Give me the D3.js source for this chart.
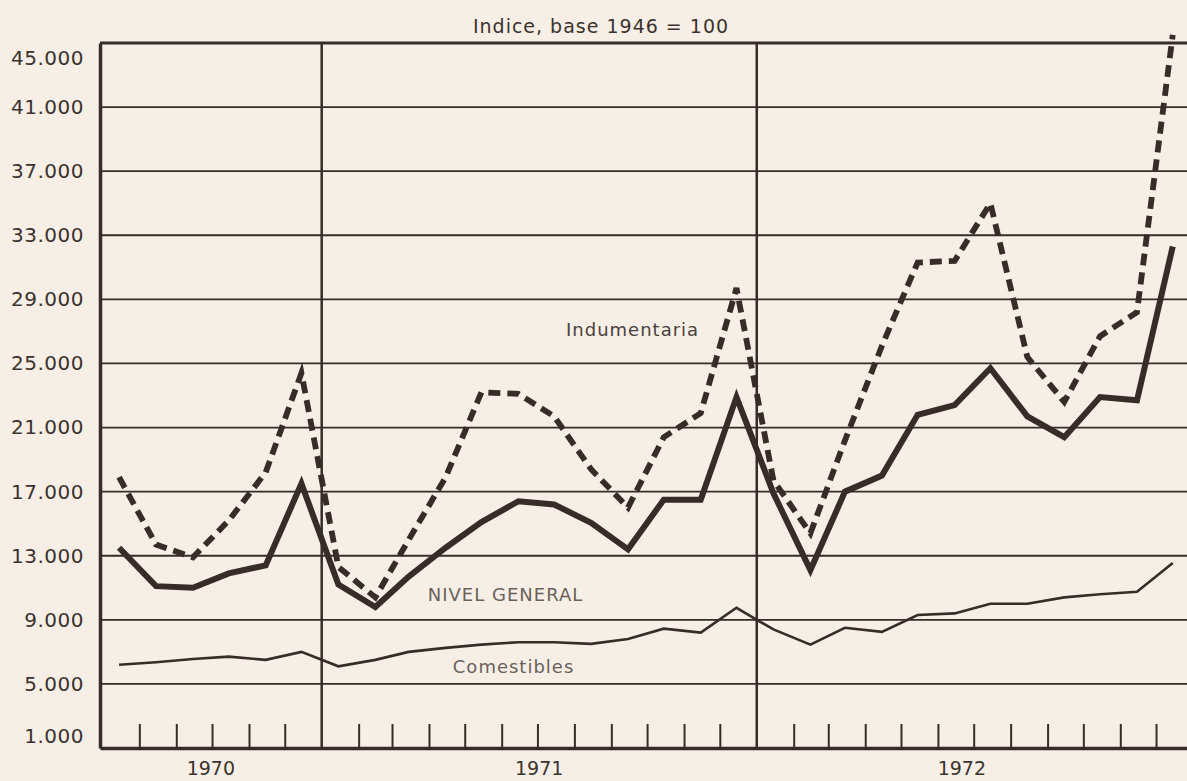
<!DOCTYPE html>
<html>
<head>
<meta charset="utf-8">
<script src="https://cdn.jsdelivr.net/npm/d3@7"></script>
<style>
  body { margin: 0; background: #f7efe6; }
  svg { display: block; }
  text { font-family: "DejaVu Sans", sans-serif; fill: #3b322e; }
</style>
</head>
<body>
<div id="chart"></div>
<script>
// monthly values, Jul 1970 - Dec 1972
var months = ["1970-07","1970-08","1970-09","1970-10","1970-11","1970-12",
  "1971-01","1971-02","1971-03","1971-04","1971-05","1971-06",
  "1971-07","1971-08","1971-09","1971-10","1971-11","1971-12",
  "1972-01","1972-02","1972-03","1972-04","1972-05","1972-06",
  "1972-07","1972-08","1972-09","1972-10","1972-11","1972-12"];

var nivelGeneral = [13500, 11100, 11000, 11900, 12400, 17500,
  11200, 9800, 11700, 13500, 15100, 16400,
  16200, 15050, 13400, 16500, 16500, 22900,
  16900, 12100, 17000, 18000, 21800, 22400,
  24700, 21700, 20400, 22900, 22700, 32300];

var indumentaria = [17900, 13700, 12900, 15200, 18200, 24400,
  12300, 10400, 14000, 17900, 23200, 23100,
  21700, 18400, 16000, 20400, 21900, 29700,
  17700, 14400, 20200, 26100, 31300, 31400,
  35000, 25400, 22600, 26700, 28200, 45500];

var comestibles = [6200, 6350, 6550, 6700, 6500, 7000,
  6100, 6500, 7000, 7250, 7450, 7600,
  7600, 7500, 7800, 8450, 8200, 9750,
  8400, 7450, 8500, 8250, 9300, 9400,
  10000, 10000, 10400, 10600, 10750, 12550];

var yTicks = [1000, 5000, 9000, 13000, 17000, 21000, 25000, 29000, 33000, 37000, 41000, 45000];
var years = [1970, 1971, 1972];

var width = 1187, height = 781;
var margin = {top: 43, left: 100, bottom: 33};
var ink = "#372c28";

var svg = d3.select("#chart").append("svg")
    .attr("width", width)
    .attr("height", height);

var parseMonth = d3.timeParse("%Y-%m");
var mid = m => d3.timeDay.offset(parseMonth(m), 14);

var xScale = d3.scaleTime()
    .domain([new Date(1970, 5, 29), new Date(1973, 0, 1)])
    .range([margin.left, 1193]);

var yScale = d3.scaleLinear()
    .domain([1000, 45000])
    .range([height - margin.bottom, margin.top]);

var fmt = d3.formatLocale({decimal: ",", thousands: ".", grouping: [3], currency: ["", ""]}).format(",");

var x0 = xScale.range()[0], x1 = xScale.range()[1];

// horizontal grid
svg.append("g")
  .selectAll("line")
  .data(yTicks.slice(1, -1))
  .join("line")
    .attr("x1", x0)
    .attr("x2", x1)
    .attr("y1", d => yScale(d))
    .attr("y2", d => yScale(d))
    .attr("stroke", ink)
    .attr("stroke-width", 1.8);

// year separators
svg.append("g")
  .selectAll("line")
  .data(years.slice(1))
  .join("line")
    .attr("x1", d => xScale(new Date(d, 0, 1)))
    .attr("x2", d => xScale(new Date(d, 0, 1)))
    .attr("y1", yScale(45000))
    .attr("y2", yScale(1000))
    .attr("stroke", ink)
    .attr("stroke-width", 2.5);

// top frame
svg.append("line")
    .attr("x1", x0)
    .attr("x2", x1)
    .attr("y1", yScale(45000))
    .attr("y2", yScale(45000))
    .attr("stroke", ink)
    .attr("stroke-width", 3);

// month ticks on the bottom axis
var monthTicks = d3.timeMonth.range(new Date(1970, 7, 1), new Date(1973, 0, 1))
    .filter(d => d.getMonth() != 0);

var xAxis = d3.axisBottom(xScale)
    .tickValues(monthTicks)
    .tickSize(-24)
    .tickSizeOuter(0)
    .tickFormat("");

var gx = svg.append("g")
    .attr("transform", `translate(0,${yScale(1000)})`)
    .call(xAxis);
gx.select(".domain").attr("stroke", ink).attr("stroke-width", 3.5);
gx.selectAll(".tick line").attr("stroke", ink).attr("stroke-width", 2);

// left axis with labels
var yAxis = d3.axisLeft(yScale)
    .tickValues(yTicks)
    .tickSize(0)
    .tickPadding(16)
    .tickFormat(fmt);

var gy = svg.append("g")
    .attr("transform", `translate(${x0},0)`)
    .call(yAxis);
gy.select(".domain").attr("stroke", ink).attr("stroke-width", 3.5);
gy.selectAll("text")
    .attr("font-size", 20)
    .attr("font-family", "DejaVu Sans")
    .attr("fill", "#3b322e")
    .attr("letter-spacing", 0.5)
    // end labels pulled inside the frame
    .attr("dy", d => d == 45000 ? "1.05em" : d == 1000 ? "-0.3em" : "0.32em");

// year labels
svg.append("g")
  .selectAll("text")
  .data(years)
  .join("text")
    .attr("x", d => {
      var a = Math.max(xScale(new Date(d, 0, 1)), x0);
      var b = Math.min(xScale(new Date(d + 1, 0, 1)), width - 20);
      return (a + b) / 2;
    })
    .attr("y", 775)
    .attr("text-anchor", "middle")
    .attr("font-size", 19)
    .text(d => d);

// series
var series = [
  {name: "Comestibles", values: comestibles, w: 2.6, dash: null},
  {name: "Nivel general", values: nivelGeneral, w: 6, dash: null},
  {name: "Indumentaria", values: indumentaria, w: 5.8, dash: "12,7"}
];

var line = d3.line()
    .x(d => xScale(mid(d.month)))
    .y(d => yScale(d.value));

svg.append("g")
  .selectAll("path")
  .data(series)
  .join("path")
    .attr("d", s => line(s.values.map((v, i) => ({month: months[i], value: v}))))
    .attr("fill", "none")
    .attr("stroke", ink)
    .attr("stroke-width", s => s.w)
    .attr("stroke-linejoin", "miter")
    .attr("stroke-dasharray", s => s.dash);

// series labels
var labels = [
  {text: "Indumentaria", date: new Date(1971, 6, 25), value: 26700, color: "#4a413d"},
  {text: "NIVEL GENERAL", date: new Date(1971, 2, 31), value: 10200, color: "#6a615c"},
  {text: "Comestibles", date: new Date(1971, 3, 21), value: 5650, color: "#6a615c"}
];

svg.append("g")
  .selectAll("text")
  .data(labels)
  .join("text")
    .attr("x", d => xScale(d.date))
    .attr("y", d => yScale(d.value))
    .attr("font-size", 18)
    .attr("letter-spacing", 1)
    .style("fill", d => d.color)
    .text(d => d.text);

// title
svg.append("text")
    .attr("x", 601)
    .attr("y", 33)
    .attr("text-anchor", "middle")
    .attr("font-size", 19)
    .attr("letter-spacing", 1)
    .text("Indice, base 1946 = 100");
</script>
</body>
</html>
